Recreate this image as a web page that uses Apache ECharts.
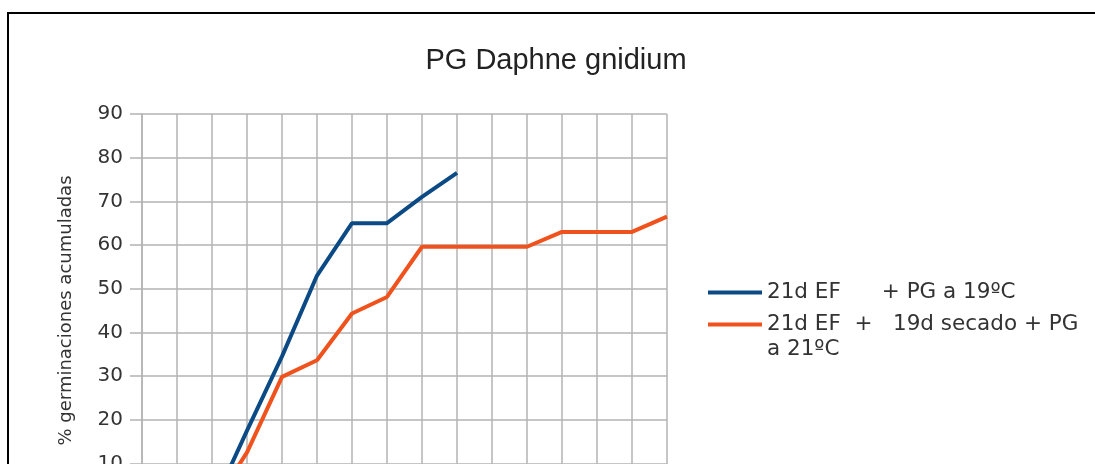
<!DOCTYPE html>
<html>
<head>
<meta charset="utf-8">
<title>PG Daphne gnidium</title>
<script src="https://cdn.jsdelivr.net/npm/echarts@6/dist/echarts.min.js"></script>
<style>
  html, body { margin: 0; padding: 0; background: #fff; }
  #myChart { width: 1095px; height: 464px; }
</style>
</head>
<body>
<div id="myChart"></div>
<script>
// categorias del eje x (quedan fuera del recorte inferior)
const dias = ['1', '2', '3', '4', '5', '6', '7', '8', '9', '10', '11', '12', '13', '14', '15', '16']
const yTicks = [0, 10, 20, 30, 40, 50, 60, 70, 80, 90]

const nombreSerie1 = '21d EF      + PG a 19ºC'
const nombreSerie2 = '21d EF  +   19d secado + PG\na 21ºC'

// % germinaciones acumuladas
const serie1 = [0, 0, 0, 17.5, 34.5, 53, 65, 65, 71, 76.5, null, null, null, null, null, null]
const serie2 = [0, 0, 0, 12.5, 29.8, 33.6, 44.3, 48.1, 59.6, 59.6, 59.6, 59.6, 63, 63, 63, 66.5]

const gris = '#b3b3b3'
const axisFont = 'DejaVu Sans'

let myChart = echarts.init(document.getElementById('myChart'))

const options = {
  backgroundColor: '#fff',
  animation: false,
  title: {
    text: 'PG Daphne gnidium',
    left: 551,
    top: 41,
    textAlign: 'center',
    textStyle: {
      fontFamily: 'Liberation Sans',
      fontSize: 29,
      fontWeight: 'normal',
      color: '#222'
    }
  },
  graphic: [
    {
      type: 'rect',
      shape: { x: 8, y: 13, width: 1100, height: 500 },
      style: { fill: 'none', stroke: '#000', lineWidth: 2 },
      silent: true
    }
  ],
  legend: [
    {
      data: [nombreSerie1],
      orient: 'vertical',
      left: 708,
      top: 280,
      padding: 0,
      icon: 'rect',
      itemWidth: 54,
      itemHeight: 4,
      textStyle: { fontFamily: axisFont, fontSize: 21.5, color: '#333', lineHeight: 25 }
    },
    {
      data: [nombreSerie2],
      orient: 'vertical',
      left: 708,
      top: 287,
      padding: 0,
      icon: 'rect',
      itemWidth: 54,
      itemHeight: 4,
      // linea vacia arriba para que el icono quede a la altura de la primera linea
      formatter: function (name) { return '\u00a0\n' + name },
      textStyle: { fontFamily: axisFont, fontSize: 21.5, color: '#333', lineHeight: 25 }
    }
  ],
  grid: {
    left: 142,
    top: 114,
    width: 525,
    height: 393,
    outerBoundsMode: 'none',
    containLabel: false
  },
  xAxis: {
    type: 'category',
    data: dias,
    boundaryGap: false,
    axisLine: { show: true, lineStyle: { color: gris } },
    axisTick: { show: false },
    axisLabel: { color: '#333', fontFamily: axisFont, fontSize: 20 },
    splitLine: { show: true, interval: 0, lineStyle: { color: gris, width: 1.5 } }
  },
  yAxis: {
    type: 'value',
    min: yTicks[0],
    max: yTicks[yTicks.length - 1],
    interval: 10,
    name: '% germinaciones acumuladas',
    nameLocation: 'middle',
    nameGap: 67,
    nameMoveOverlap: false,
    nameTextStyle: { fontFamily: axisFont, fontSize: 18, color: '#333' },
    axisLine: { show: true, lineStyle: { color: gris, width: 1.5 } },
    axisTick: { show: true, inside: false, length: 12, lineStyle: { color: gris, width: 1.5 } },
    axisLabel: { margin: 19, color: '#333', fontFamily: axisFont, fontSize: 20 },
    splitLine: { show: true, lineStyle: { color: gris, width: 1.5 } }
  },
  series: [
    {
      name: nombreSerie1,
      type: 'line',
      data: serie1,
      symbol: 'none',
      connectNulls: false,
      color: '#0b4a84',
      lineStyle: { width: 4, color: '#0b4a84' }
    },
    {
      name: nombreSerie2,
      type: 'line',
      data: serie2,
      symbol: 'none',
      color: '#ef521c',
      lineStyle: { width: 4, color: '#ef521c' }
    }
  ]
}

myChart.setOption(options)
</script>
</body>
</html>
